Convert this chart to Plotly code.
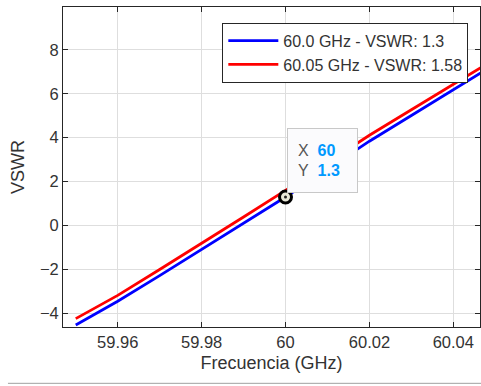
import plotly.graph_objects as go

freq = [59.95, 59.96, 59.97, 59.98, 59.99, 60.00, 60.01, 60.02, 60.03, 60.04, 60.05]
vswr_60 = [-4.53, -3.45, -2.28, -1.10, 0.10, 1.30, 2.57, 3.84, 5.01, 6.18, 7.36]
vswr_6005 = [-4.24, -3.18, -2.00, -0.82, 0.39, 1.60, 2.85, 4.11, 5.27, 6.43, 7.59]
names = ["60.0 GHz - VSWR: 1.3", "60.05 GHz - VSWR: 1.58"]
x_ticks = [59.96, 59.98, 60, 60.02, 60.04]
x_ticktext = ["59.96", "59.98", "60", "60.02", "60.04"]
y_ticks = [-4, -2, 0, 2, 4, 6, 8]
tip_x = 60
tip_y = 1.3

FONT = "Liberation Sans, Arial, sans-serif"
TXT = "#333333"

fig = go.Figure()
fig.add_trace(go.Scatter(x=freq, y=vswr_60, mode="lines", name=names[0],
                         line=dict(color="#0000ff", width=2.8)))
fig.add_trace(go.Scatter(x=freq, y=vswr_6005, mode="lines", name=names[1],
                         line=dict(color="#ff0000", width=2.8)))
fig.add_trace(go.Scatter(x=[tip_x], y=[tip_y], mode="markers", showlegend=False,
                         marker=dict(size=12, color="#e8e8d8",
                                     line=dict(color="#000000", width=3))))
fig.add_trace(go.Scatter(x=[tip_x], y=[tip_y], mode="markers", showlegend=False,
                         marker=dict(size=3, color="#202020")))

axis_common = dict(showline=True, linecolor="#262626", linewidth=1, mirror="allticks",
                   ticks="inside", ticklen=5, tickcolor="#262626",
                   showgrid=True, gridcolor="#dedede", gridwidth=1,
                   zeroline=False, automargin=False,
                   tickfont=dict(family=FONT, size=16.5, color=TXT))

fig.update_xaxes(range=[59.94696, 60.04636], tickvals=x_ticks, ticktext=x_ticktext,
                 title=dict(text="Frecuencia (GHz)", font=dict(family=FONT, size=18, color=TXT),
                            standoff=6),
                 **axis_common)
fig.update_yaxes(range=[-4.62, 9.95], tickvals=y_ticks,
                 title=dict(text="VSWR", font=dict(family=FONT, size=18, color=TXT),
                            standoff=10),
                 **axis_common)

fig.add_annotation(x=tip_x, y=tip_y, xref="x", yref="y",
                   text=("X\u00a0\u00a0<span style='color:#0099ff'><b>60</b></span><br>"
                         "Y\u00a0\u00a0<span style='color:#0099ff'><b>1.3</b></span>"),
                   showarrow=False, xanchor="left", yanchor="bottom", align="left",
                   xshift=1, yshift=4, width=49, height=43, borderpad=10,
                   bgcolor="#fbfbfd", bordercolor="#c8c8c8", borderwidth=1,
                   font=dict(family=FONT, size=16, color="#555555"))

fig.add_shape(type="line", xref="paper", yref="paper", x0=-0.132, x1=1.01,
              y0=-0.176, y1=-0.176, line=dict(color="#a0a0a0", width=1))

fig.update_layout(
    width=481, height=386,
    margin=dict(l=63, r=1, t=7, b=59, autoexpand=False),
    paper_bgcolor="white", plot_bgcolor="white",
    font=dict(family=FONT, color=TXT),
    legend=dict(x=0.972, y=0.951, xanchor="right", yanchor="top",
                bgcolor="white", bordercolor="#262626", borderwidth=1,
                font=dict(family=FONT, size=16, color=TXT),
                itemwidth=50, tracegroupgap=0),
)

fig.write_html("out.html", config={"displayModeBar": False},
               post_script="document.body.style.margin='0';")
